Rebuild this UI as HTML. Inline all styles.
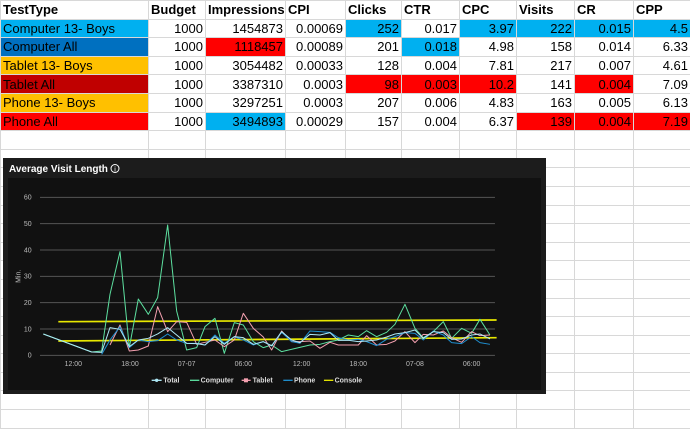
<!DOCTYPE html>
<html><head><style>
body{margin:0;width:690px;height:428px;background:#fff;font-family:"Liberation Sans",sans-serif;overflow:hidden;position:relative}
table{border-collapse:collapse;position:absolute;left:0;top:0;table-layout:fixed;width:690px}
td{border:1px solid #d8d8d8;height:18.6px;padding:0 2px;font-size:13px;text-align:right;white-space:nowrap;overflow:hidden;box-sizing:border-box}
td:first-child{text-align:left}
tr.h td{font-weight:bold;text-align:left}
.b{background:#00b0f0}.db{background:#0070c0}.y{background:#ffc000}.dr{background:#c00000}.r{background:#ff0000}
</style></head><body>
<table>
<colgroup><col style="width:148px"><col style="width:57px"><col style="width:80px"><col style="width:60px"><col style="width:56px"><col style="width:58px"><col style="width:57px"><col style="width:58px"><col style="width:59px"><col style="width:57px"></colgroup>
<tr class="h"><td>TestType</td><td>Budget</td><td>Impressions</td><td>CPI</td><td>Clicks</td><td>CTR</td><td>CPC</td><td>Visits</td><td>CR</td><td>CPP</td></tr>
<tr><td class="b">Computer 13- Boys</td><td>1000</td><td>1454873</td><td>0.00069</td><td class="b">252</td><td>0.017</td><td class="b">3.97</td><td class="b">222</td><td class="b">0.015</td><td class="b">4.5</td></tr>
<tr><td class="db">Computer All</td><td>1000</td><td class="r">1118457</td><td>0.00089</td><td>201</td><td class="b">0.018</td><td>4.98</td><td>158</td><td>0.014</td><td>6.33</td></tr>
<tr><td class="y">Tablet 13- Boys</td><td>1000</td><td>3054482</td><td>0.00033</td><td>128</td><td>0.004</td><td>7.81</td><td>217</td><td>0.007</td><td>4.61</td></tr>
<tr><td class="dr">Tablet All</td><td>1000</td><td>3387310</td><td>0.0003</td><td class="r">98</td><td class="r">0.003</td><td class="r">10.2</td><td>141</td><td class="r">0.004</td><td>7.09</td></tr>
<tr><td class="y">Phone 13- Boys</td><td>1000</td><td>3297251</td><td>0.0003</td><td>207</td><td>0.006</td><td>4.83</td><td>163</td><td>0.005</td><td>6.13</td></tr>
<tr><td class="r">Phone All</td><td>1000</td><td class="b">3494893</td><td>0.00029</td><td>157</td><td>0.004</td><td>6.37</td><td class="r">139</td><td class="r">0.004</td><td class="r">7.19</td></tr>
<tr><td></td><td></td><td></td><td></td><td></td><td></td><td></td><td></td><td></td><td></td></tr>
<tr><td></td><td></td><td></td><td></td><td></td><td></td><td></td><td></td><td></td><td></td></tr>
<tr><td></td><td></td><td></td><td></td><td></td><td></td><td></td><td></td><td></td><td></td></tr>
<tr><td></td><td></td><td></td><td></td><td></td><td></td><td></td><td></td><td></td><td></td></tr>
<tr><td></td><td></td><td></td><td></td><td></td><td></td><td></td><td></td><td></td><td></td></tr>
<tr><td></td><td></td><td></td><td></td><td></td><td></td><td></td><td></td><td></td><td></td></tr>
<tr><td></td><td></td><td></td><td></td><td></td><td></td><td></td><td></td><td></td><td></td></tr>
<tr><td></td><td></td><td></td><td></td><td></td><td></td><td></td><td></td><td></td><td></td></tr>
<tr><td></td><td></td><td></td><td></td><td></td><td></td><td></td><td></td><td></td><td></td></tr>
<tr><td></td><td></td><td></td><td></td><td></td><td></td><td></td><td></td><td></td><td></td></tr>
<tr><td></td><td></td><td></td><td></td><td></td><td></td><td></td><td></td><td></td><td></td></tr>
<tr><td></td><td></td><td></td><td></td><td></td><td></td><td></td><td></td><td></td><td></td></tr>
<tr><td></td><td></td><td></td><td></td><td></td><td></td><td></td><td></td><td></td><td></td></tr>
<tr><td></td><td></td><td></td><td></td><td></td><td></td><td></td><td></td><td></td><td></td></tr>
<tr><td></td><td></td><td></td><td></td><td></td><td></td><td></td><td></td><td></td><td></td></tr>
<tr><td></td><td></td><td></td><td></td><td></td><td></td><td></td><td></td><td></td><td></td></tr>
</table>
<svg width="690" height="428" style="position:absolute;left:0;top:0">
<rect x="3" y="158" width="543" height="236" fill="#1c1c1c"/>
<rect x="8" y="178" width="533" height="212" fill="#111"/>
<text x="9" y="172" fill="#fff" font-size="10" font-weight="bold">Average Visit Length</text>
<circle cx="115" cy="168.5" r="4" fill="none" stroke="#fff" stroke-width="1"/>
<text x="115" y="171.5" fill="#fff" font-size="7" text-anchor="middle">i</text>
<g transform="translate(0,155) scale(0.3333)" fill="none" stroke-linejoin="round">
<g stroke="#555" stroke-width="3">
<line x1="120" y1="127" x2="1485" y2="127"/><line x1="120" y1="206" x2="1485" y2="206"/><line x1="120" y1="285" x2="1485" y2="285"/><line x1="120" y1="364" x2="1485" y2="364"/><line x1="120" y1="443" x2="1485" y2="443"/><line x1="120" y1="522" x2="1485" y2="522"/><line x1="120" y1="601" x2="1485" y2="601"/>
</g>
<g fill="#bbb" stroke="none" font-size="21" text-anchor="end">
<text x="95" y="134">60</text><text x="95" y="213">50</text><text x="95" y="292">40</text><text x="95" y="371">30</text><text x="95" y="450">20</text><text x="95" y="529">10</text><text x="95" y="608">0</text>
</g>
<text transform="translate(62,364) rotate(-90)" fill="#bbb" stroke="none" font-size="21" text-anchor="middle">Min.</text>
<g fill="#bbb" stroke="none" font-size="21" text-anchor="middle">
<text x="220" y="633">12:00</text><text x="390" y="633">18:00</text><text x="560" y="633">07-07</text><text x="730" y="633">06:00</text><text x="905" y="633">12:00</text><text x="1075" y="633">18:00</text><text x="1245" y="633">07-08</text><text x="1415" y="633">06:00</text>
</g>
<g stroke="#e8e800" stroke-width="5"><line x1="175" y1="500" x2="1490" y2="495"/><line x1="175" y1="558" x2="1490" y2="548"/></g>
<polyline stroke="#5de0a0" stroke-width="3" points="130,537 275,591 305,588 330,418 360,290 388,578 415,432 445,478 473,428 503,210 530,468 560,585 590,578 615,515 645,490 673,595 703,503 730,510 760,560 790,578 815,570 845,590 930,570 960,568 990,560 1015,555 1045,540 1075,545 1100,527 1130,545 1160,532 1185,508 1215,448 1245,520 1270,548 1300,530 1330,500 1355,550 1385,520 1415,535 1440,493 1470,540"/>
<polyline stroke="#f4a0b0" stroke-width="3" points="330,570 360,510 388,588 415,585 445,573 473,455 503,530 530,500 560,502 590,568 615,562 645,555 673,575 703,555 730,475 760,520 790,546 815,585 845,528 875,560 900,560 930,558 960,580 990,562 1015,570 1045,570 1075,570 1100,542 1130,570 1160,568 1185,558 1215,530 1245,563 1270,538 1300,540 1330,528 1355,548 1385,562 1415,530 1440,542 1470,540"/>
<polyline stroke="#1f8fd0" stroke-width="3" points="305,598 330,555 360,515 388,578 415,555 445,560 473,557 503,537 530,555 560,565 590,565 615,570 645,540 673,565 703,545 730,555 760,570 790,560 815,573 845,532 875,560 900,565 930,528 960,530 990,532 1015,548 1045,555 1075,553 1100,560 1130,572 1160,553 1185,545 1215,533 1245,535 1270,555 1300,528 1330,540 1355,563 1385,566 1415,545 1440,563 1470,568"/>
<polyline stroke="#aee8f5" stroke-width="3" points="130,537 275,591 305,592 330,518 360,523 388,575 415,555 445,550 473,537 503,518 530,540 560,565 590,566 615,570 645,545 673,568 703,545 730,548 760,568 790,560 815,572 845,530 875,555 900,563 930,538 960,540 990,533 1015,556 1045,556 1075,560 1100,558 1130,555 1160,546 1185,537 1215,533 1245,525 1270,550 1300,530 1330,533 1355,553 1385,552 1415,540 1440,537 1470,552"/>
<g stroke-width="4">
<line x1="455" y1="676" x2="485" y2="676" stroke="#aee8f5"/><circle cx="470" cy="676" r="5" fill="#aee8f5" stroke="none"/>
<line x1="570" y1="676" x2="598" y2="676" stroke="#5de0a0"/>
<line x1="725" y1="676" x2="752" y2="676" stroke="#f4a0b0"/><rect x="732" y="670" width="12" height="12" fill="#f4a0b0" stroke="none"/>
<line x1="850" y1="676" x2="878" y2="676" stroke="#1f8fd0"/>
<line x1="972" y1="676" x2="1000" y2="676" stroke="#e8e800"/>
</g>
<g fill="#ddd" stroke="none" font-size="21" font-weight="bold">
<text x="490" y="683">Total</text><text x="602" y="683">Computer</text><text x="758" y="683">Tablet</text><text x="882" y="683">Phone</text><text x="1004" y="683">Console</text>
</g>
</g>
</svg>
</body></html>
